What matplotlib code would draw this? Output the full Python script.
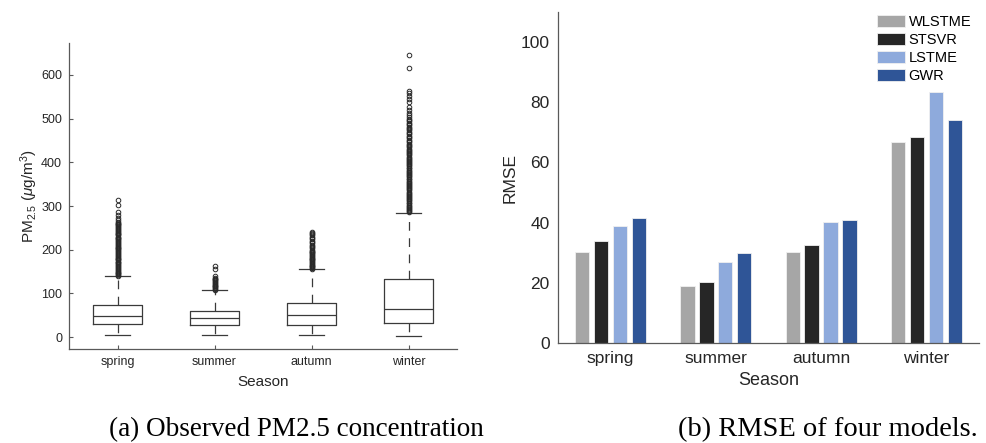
import matplotlib
matplotlib.use("Agg")
import matplotlib.pyplot as plt

plt.rcParams['font.family'] = ['Liberation Sans', 'DejaVu Sans']
plt.rcParams['mathtext.fontset'] = 'custom'
plt.rcParams['mathtext.rm'] = 'Liberation Sans'
plt.rcParams['mathtext.it'] = 'Liberation Sans:italic'

# ---- (a) box plot statistics ----
seasons = ['spring', 'summer', 'autumn', 'winter']
whis_low = [4, 4, 4, 3]
q1 = [30, 29, 27, 33]
median = [49, 43, 50, 64]
q3 = [74, 61, 79, 133]
whis_high = [139, 107, 155, 284]

fliers_spring = [140, 142, 144, 146, 148, 150, 152, 154, 157, 159, 161, 163, 165,
                 167, 169, 171, 173, 176, 178, 180, 182, 184, 186, 188, 190, 192,
                 195, 197, 199, 201, 203, 205, 207, 209, 211, 214, 216, 218, 220,
                 222, 224, 226, 228, 230, 233, 235, 237, 239, 241, 243, 245, 247,
                 249, 252, 254, 256, 258, 260, 262, 264, 267, 272, 280, 287, 303, 313]
fliers_summer = [108, 110, 112, 114, 116, 118, 120, 122, 124, 126, 128, 130, 132,
                 134, 136, 141, 156, 162]
fliers_autumn = [156, 158, 160, 162, 164, 166, 168, 170, 172, 174, 176, 178, 180,
                 182, 184, 186, 188, 190, 192, 194, 196, 198, 200, 203, 206, 209,
                 212, 215, 218, 221, 224, 227, 230, 233, 236, 238, 240]
fliers_winter = [286, 288, 291, 293, 296, 298, 301, 303, 306, 308, 311, 313, 316,
                 318, 321, 323, 326, 328, 331, 333, 336, 338, 341, 343, 346, 348,
                 351, 353, 356, 358, 361, 363, 366, 368, 371, 373, 376, 378, 381,
                 383, 386, 388, 391, 393, 396, 398, 401, 403, 406, 408, 411, 413,
                 416, 418, 421, 423, 426, 428, 431, 434, 437, 440, 443, 446, 449,
                 452, 455, 458, 461, 464, 467, 470, 473, 476, 479, 482, 485, 488,
                 491, 494, 497, 500, 504, 508, 513, 520, 527, 538, 544, 552, 558,
                 564, 615, 646]

# ---- (b) RMSE of the four models ----
models = ['WLSTME', 'STSVR', 'LSTME', 'GWR']
rmse_wlstme = [30.4, 19.0, 30.3, 66.7]
rmse_stsvr = [33.8, 20.2, 32.6, 68.4]
rmse_lstme = [38.9, 26.9, 40.2, 83.4]
rmse_gwr = [41.5, 29.8, 40.9, 74.1]
model_colors = ['#a6a6a6', '#262626', '#8eaadc', '#2f5597']

axis_col = '#595959'
text_col = '#262626'

fig = plt.figure(figsize=(9.87, 4.43), dpi=100)

# 左图: 箱线图
ax1 = fig.add_axes([0.0699, 0.2122, 0.3932, 0.6907])
all_fliers = [fliers_spring, fliers_summer, fliers_autumn, fliers_winter]
stats = []
for i in range(len(seasons)):
    stats.append(dict(label=seasons[i], whislo=whis_low[i], q1=q1[i], med=median[i],
                      q3=q3[i], whishi=whis_high[i], fliers=all_fliers[i]))
line_col = '#3a3a3a'
ax1.bxp(stats, positions=[1, 2, 3, 4], widths=0.5,
        boxprops=dict(color=line_col, linewidth=0.9),
        medianprops=dict(color=line_col, linewidth=0.9),
        whiskerprops=dict(color=line_col, linewidth=0.9, linestyle=(0, (7, 6))),
        capprops=dict(color=line_col, linewidth=0.9),
        flierprops=dict(marker='o', markersize=3.3, markerfacecolor='none',
                        markeredgecolor='#2a2a2a', markeredgewidth=0.7))
ax1.set_xlim(0.5, 4.5)
ax1.set_ylim(-27, 673)
ax1.set_yticks([0, 100, 200, 300, 400, 500, 600])
ax1.set_xticks([1, 2, 3, 4])
ax1.set_xticklabels(seasons)
for s in ['top', 'right']:
    ax1.spines[s].set_visible(False)
for s in ['left', 'bottom']:
    ax1.spines[s].set_color(axis_col)
    ax1.spines[s].set_linewidth(0.9)
ax1.tick_params(direction='in', length=3, width=0.8, color=axis_col,
                labelsize=9, labelcolor=text_col, pad=5)
ax1.set_xlabel('Season', fontsize=11, color=text_col, labelpad=5)
ax1.set_ylabel(r'PM$_{2.5}$ ($\mu$g/m$^3$)', fontsize=11, color=text_col, labelpad=1)

# 右图: 分组柱状图
ax2 = fig.add_axes([0.5653, 0.2257, 0.4266, 0.7472])
series = [rmse_wlstme, rmse_stsvr, rmse_lstme, rmse_gwr]
pitch = 0.18
bar_w = 0.136
x = [1, 2, 3, 4]
for k, vals in enumerate(series):
    xs = [xi + (k - 1.5) * pitch for xi in x]
    ax2.bar(xs, vals, width=bar_w, color=model_colors[k], edgecolor='#f0f0f0',
            linewidth=0.6, label=models[k])
ax2.set_xlim(0.5, 4.5)
ax2.set_ylim(0, 110)
ax2.set_yticks([0, 20, 40, 60, 80, 100])
ax2.set_xticks(x)
ax2.set_xticklabels(seasons)
for s in ['top', 'right']:
    ax2.spines[s].set_visible(False)
for s in ['left', 'bottom']:
    ax2.spines[s].set_color(axis_col)
    ax2.spines[s].set_linewidth(0.9)
ax2.tick_params(length=0, labelsize=12.5, labelcolor=text_col, pad=6)
ax2.set_xlabel('Season', fontsize=13, color=text_col, labelpad=4)
ax2.set_ylabel('RMSE', fontsize=12.5, color=text_col, labelpad=2)
ax2.legend(loc='upper left', bbox_to_anchor=(0.758, 0.99), frameon=False,
           fontsize=10.5, handlelength=1.9, handleheight=0.9, handletextpad=0.25,
           labelspacing=0.25, borderpad=0, borderaxespad=0)

# 子图标题
fig.text(0.300, 0.003, '(a) Observed PM2.5 concentration', ha='center', va='bottom',
         fontsize=19.5, family='Liberation Serif', color='black')
fig.text(0.839, 0.003, '(b) RMSE of four models.', ha='center', va='bottom',
         fontsize=20.5, family='Liberation Serif', color='black')

fig.savefig('out.png', dpi=100)
